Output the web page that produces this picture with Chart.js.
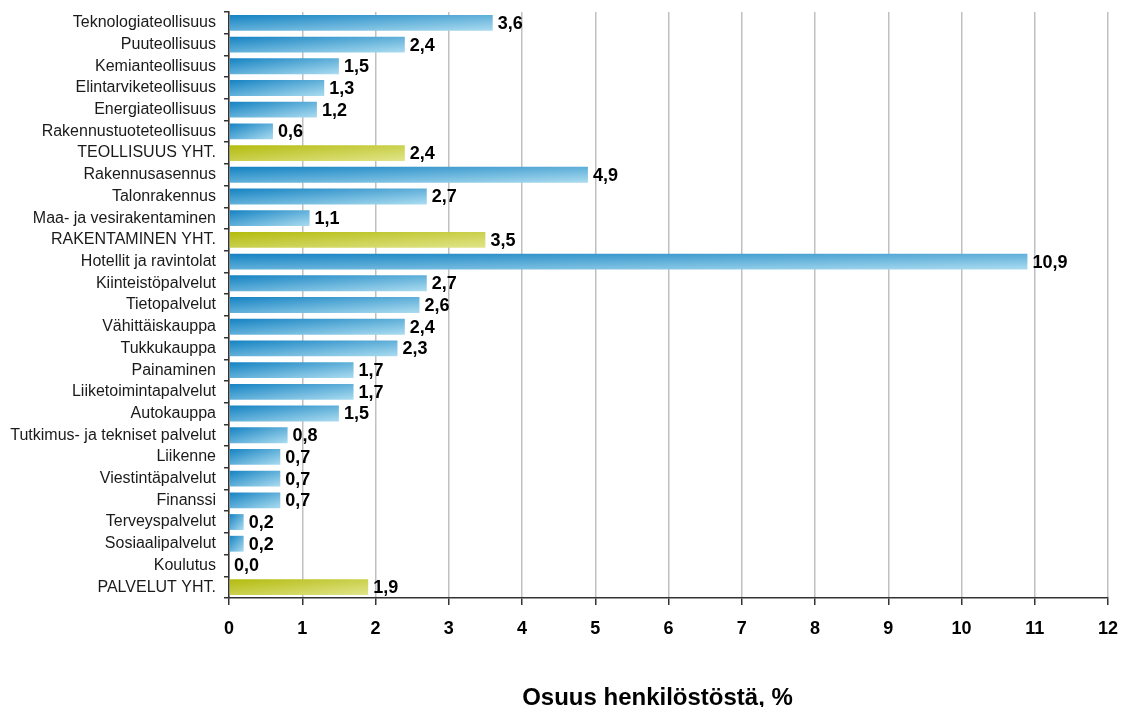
<!DOCTYPE html>
<html>
<head>
<meta charset="utf-8">
<script src="https://cdn.jsdelivr.net/npm/chart.js@4/dist/chart.umd.min.js"></script>
<style>
	html, body { margin: 0; padding: 0; background: #fff; }
	#wrap { width: 1122px; height: 707px; position: relative; }
</style>
</head>
<body>
<div id="wrap"><canvas id="chart"></canvas></div>
<script>
const categories = [
	'Teknologiateollisuus', 'Puuteollisuus', 'Kemianteollisuus', 'Elintarviketeollisuus',
	'Energiateollisuus', 'Rakennustuoteteollisuus', 'TEOLLISUUS YHT.', 'Rakennusasennus',
	'Talonrakennus', 'Maa- ja vesirakentaminen', 'RAKENTAMINEN YHT.', 'Hotellit ja ravintolat',
	'Kiinteistöpalvelut', 'Tietopalvelut', 'Vähittäiskauppa', 'Tukkukauppa', 'Painaminen',
	'Liiketoimintapalvelut', 'Autokauppa', 'Tutkimus- ja tekniset palvelut', 'Liikenne',
	'Viestintäpalvelut', 'Finanssi', 'Terveyspalvelut', 'Sosiaalipalvelut', 'Koulutus',
	'PALVELUT YHT.',
];
const values = [
	3.6, 2.4, 1.5, 1.3, 1.2, 0.6, 2.4, 4.9, 2.7, 1.1, 3.5, 10.9, 2.7, 2.6, 2.4, 2.3, 1.7,
	1.7, 1.5, 0.8, 0.7, 0.7, 0.7, 0.2, 0.2, 0.0, 1.9,
];
const totalRows = ['TEOLLISUUS YHT.', 'RAKENTAMINEN YHT.', 'PALVELUT YHT.'];
const xTicks = [0, 1, 2, 3, 4, 5, 6, 7, 8, 9, 10, 11, 12];
const xTitle = 'Osuus henkilöstöstä, %';

const FONT = "'Liberation Sans', Arial, sans-serif";
const BAR_PCT = 0.73;

function fmt(v) {
	return v.toFixed(1).replace('.', ',');
}

// diagonal gradient stretched over the bar, dark top-left -> light bottom-right
function barFill(context) {
	const chart = context.chart;
	const i = context.dataIndex;
	const isTotal = totalRows.includes(categories[i]);
	const dark = isTotal ? '#b3bb0e' : '#1482c2';
	const light = isTotal ? '#e1e58a' : '#abdcf0';
	if (!chart.chartArea || !chart.scales.x || !chart.scales.y) return dark;
	const xs = chart.scales.x;
	const ys = chart.scales.y;
	const x0 = xs.getPixelForValue(0);
	const x1 = xs.getPixelForValue(values[i]);
	const w = Math.max(x1 - x0, 1);
	const h = (ys.height / categories.length) * BAR_PCT;
	const y0 = ys.getPixelForValue(i) - h / 2;
	const t = (2 * w * h) / (w * w + h * h);
	const g = chart.ctx.createLinearGradient(x0, y0, x0 + t * h, y0 + t * w);
	g.addColorStop(0, dark);
	g.addColorStop(1, light);
	return g;
}

const valueLabels = {
	id: 'valueLabels',
	afterDatasetsDraw(chart) {
		const { ctx } = chart;
		const meta = chart.getDatasetMeta(0);
		ctx.save();
		ctx.font = 'bold 18px ' + FONT;
		ctx.fillStyle = '#000';
		ctx.textAlign = 'left';
		ctx.textBaseline = 'middle';
		meta.data.forEach((bar, i) => {
			ctx.fillText(fmt(values[i]), bar.x + 5, bar.y + 1);
		});
		ctx.restore();
	},
};

// axis title sits a little left of the plot centre in the original
const axisTitle = {
	id: 'axisTitle',
	afterDraw(chart) {
		const { ctx, chartArea } = chart;
		ctx.save();
		ctx.font = 'bold 24px ' + FONT;
		ctx.fillStyle = '#000';
		ctx.textAlign = 'center';
		ctx.textBaseline = 'alphabetic';
		ctx.fillText(xTitle, (chartArea.left + chartArea.right) / 2 - 11, 705);
		ctx.restore();
	},
};

new Chart(document.getElementById('chart'), {
	type: 'bar',
	data: {
		labels: categories,
		datasets: [
			{
				data: values,
				backgroundColor: barFill,
				borderWidth: 0,
				barPercentage: BAR_PCT,
				categoryPercentage: 1,
			},
		],
	},
	options: {
		indexAxis: 'y',
		responsive: true,
		maintainAspectRatio: false,
		animation: false,
		layout: { padding: { top: 12, right: 14, bottom: 0, left: 0 } },
		plugins: {
			legend: { display: false },
			tooltip: { enabled: false },
		},
		scales: {
			x: {
				min: 0,
				max: 12,
				afterBuildTicks: (scale) => {
					scale.ticks = xTicks.map((v) => ({ value: v }));
				},
				afterFit: (scale) => {
					scale.height = 109;
					scale.paddingLeft = 0;
					scale.paddingRight = 0;
				},
				ticks: {
					color: '#000',
					font: { family: FONT, size: 18, weight: 'bold' },
					padding: 13,
				},
				grid: {
					color: '#c0c0c0',
					lineWidth: 1.5,
					tickColor: '#333',
					tickLength: 7,
				},
				border: { color: '#333', width: 1.5 },
			},
			y: {
				afterFit: (scale) => {
					scale.width = 229;
					scale.paddingTop = 0;
					scale.paddingBottom = 0;
				},
				ticks: {
					color: '#1a1a1a',
					font: { family: FONT, size: 16 },
					padding: 8,
					autoSkip: false,
				},
				grid: {
					drawOnChartArea: false,
					offset: true,
					tickColor: '#333',
					tickLength: 5,
					lineWidth: 1.5,
				},
				border: { color: '#333', width: 1.5 },
			},
		},
	},
	plugins: [valueLabels, axisTitle],
});
</script>
</body>
</html>
